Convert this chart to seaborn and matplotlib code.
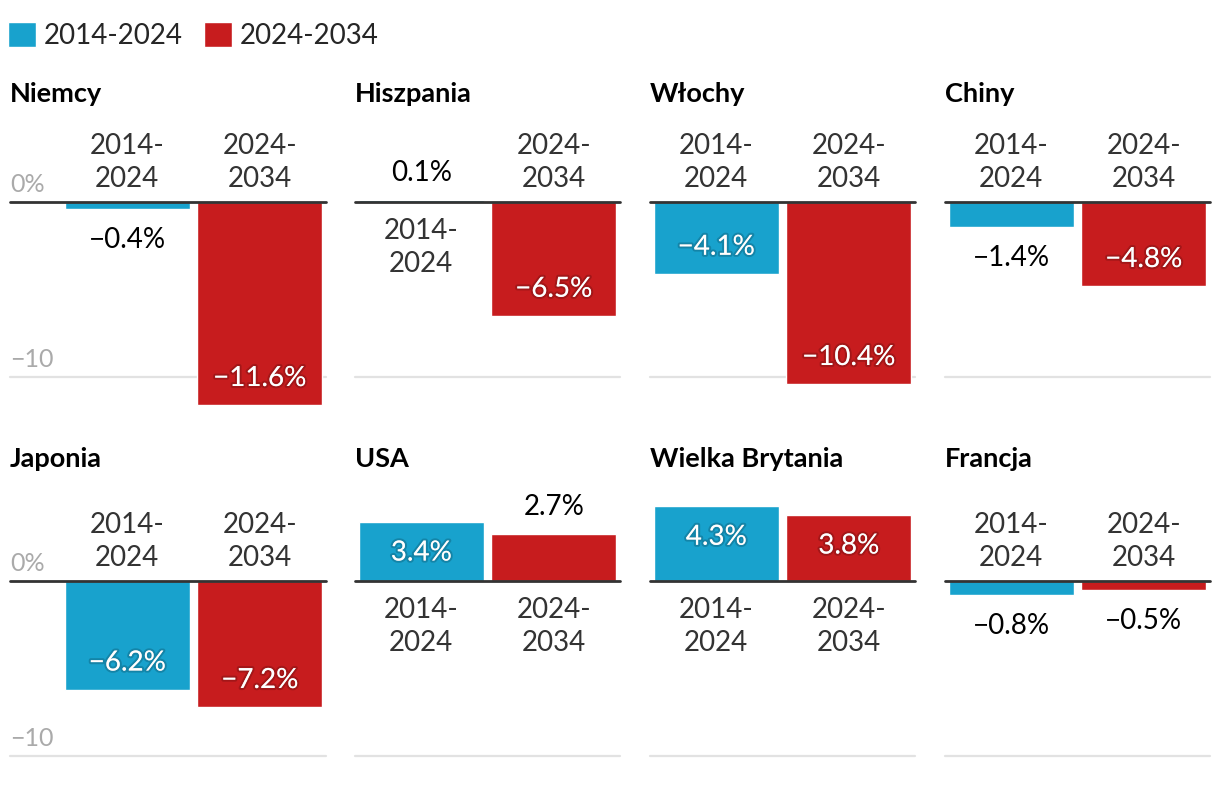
import matplotlib
matplotlib.use("Agg")
import matplotlib.pyplot as plt
import matplotlib.patheffects as pe
from matplotlib.patches import Patch
import seaborn as sns
import pandas as pd

countries = ["Niemcy", "Hiszpania", "Włochy", "Chiny",
             "Japonia", "USA", "Wielka Brytania", "Francja"]
periods = ["2014-2024", "2024-2034"]
period_labels = ["2014-\n2024", "2024-\n2034"]
change_2014_2024 = [-0.4, 0.1, -4.1, -1.4, -6.2, 3.4, 4.3, -0.8]
change_2024_2034 = [-11.6, -6.5, -10.4, -4.8, -7.2, 2.7, 3.8, -0.5]
y_ticks = [0, -10]
y_tick_labels = ["0%", "−10"]

BLUE = "#18a2cd"
RED = "#c71c1e"

sns.set_theme(style="white")
plt.rcParams["font.family"] = ["Lato", "DejaVu Sans"]

df = pd.DataFrame({
    "country": countries * 2,
    "period": [periods[0]] * 8 + [periods[1]] * 8,
    "value": change_2014_2024 + change_2024_2034,
})

W, H = 1220, 800
fig = plt.figure(figsize=(12.2, 8), dpi=100)

# pixel layout
lefts = [61, 355, 650, 945]
ax_w = 265
zeros = [202, 581]
title_base = [102, 467]
ppu = 17.5
ylo, yhi = -12.5, 5

shadow = [pe.withStroke(linewidth=3, foreground=(0, 0, 0, 0.18))]

def fmt(v):
    return f"{v:.1f}%".replace("-", "−")

for i, c in enumerate(countries):
    r, col = divmod(i, 4)
    left = lefts[col]
    top = zeros[r] - yhi * ppu
    bottom = zeros[r] - ylo * ppu
    ax = fig.add_axes([left / W, 1 - bottom / H, ax_w / W, (bottom - top) / H])
    sub = df[df.country == c]
    sns.barplot(data=sub, x="period", y="value", hue="period", order=periods,
                hue_order=periods, palette=[BLUE, RED], width=0.945,
                saturation=1, legend=False, ax=ax, zorder=2)
    ax.set_xlim(-0.5, 1.5)
    ax.set_ylim(ylo, yhi)
    ax.axis("off")

    ext = (10 - left) / ax_w if col == 0 else 0
    ax.axhline(-10, xmin=ext, xmax=1, color="#e2e2e2", lw=1.6, clip_on=False, zorder=0)
    ax.axhline(0, xmin=ext, xmax=1, color="#333333", lw=2, clip_on=False, zorder=5)

    if col == 0:
        for t, lab in zip(y_ticks, y_tick_labels):
            ax.annotate(lab, xy=(ext, t), xycoords=("axes fraction", "data"),
                        xytext=(0, 10), textcoords="offset pixels",
                        ha="left", va="baseline", fontsize=18, color="#aaaaaa")

    fig.text((left + ax_w * ext) / W, 1 - title_base[r] / H, c,
             ha="left", va="baseline", fontsize=19.5, fontweight="bold", color="black")

    for j, p in enumerate(periods):
        v = sub.loc[sub.period == p, "value"].iloc[0]
        sign = 1 if v >= 0 else -1
        # category label on the other side of the zero line
        if sign > 0:
            ax.annotate(period_labels[j], xy=(j, 0), xytext=(0, -16),
                        textcoords="offset pixels", ha="center", va="top",
                        fontsize=20, color="#333333", linespacing=1.32)
        else:
            ax.annotate(period_labels[j], xy=(j, 0), xytext=(0, 10),
                        textcoords="offset pixels", ha="center", va="bottom",
                        fontsize=20, color="#333333", linespacing=1.32)
        # value label: inside for big bars, outside otherwise
        inside = abs(v) >= 3
        off = -29 * sign if inside else 29 * sign
        txt = ax.annotate(fmt(v), xy=(j, v), xytext=(0, off - 10),
                          textcoords="offset pixels", ha="center", va="baseline",
                          fontsize=20, color="white" if inside else "black", zorder=6)
        if inside:
            txt.set_path_effects(shadow)

handles = [Patch(facecolor=BLUE, label=periods[0]), Patch(facecolor=RED, label=periods[1])]
fig.legend(handles=handles, loc="upper left", bbox_to_anchor=(8 / W, 1 - 22 / H),
           ncol=2, frameon=False, fontsize=20, handlelength=1.0, handleheight=1.0,
           handletextpad=0.3, columnspacing=0.75, borderaxespad=0, borderpad=0)

fig.savefig("out.png", dpi=100)
